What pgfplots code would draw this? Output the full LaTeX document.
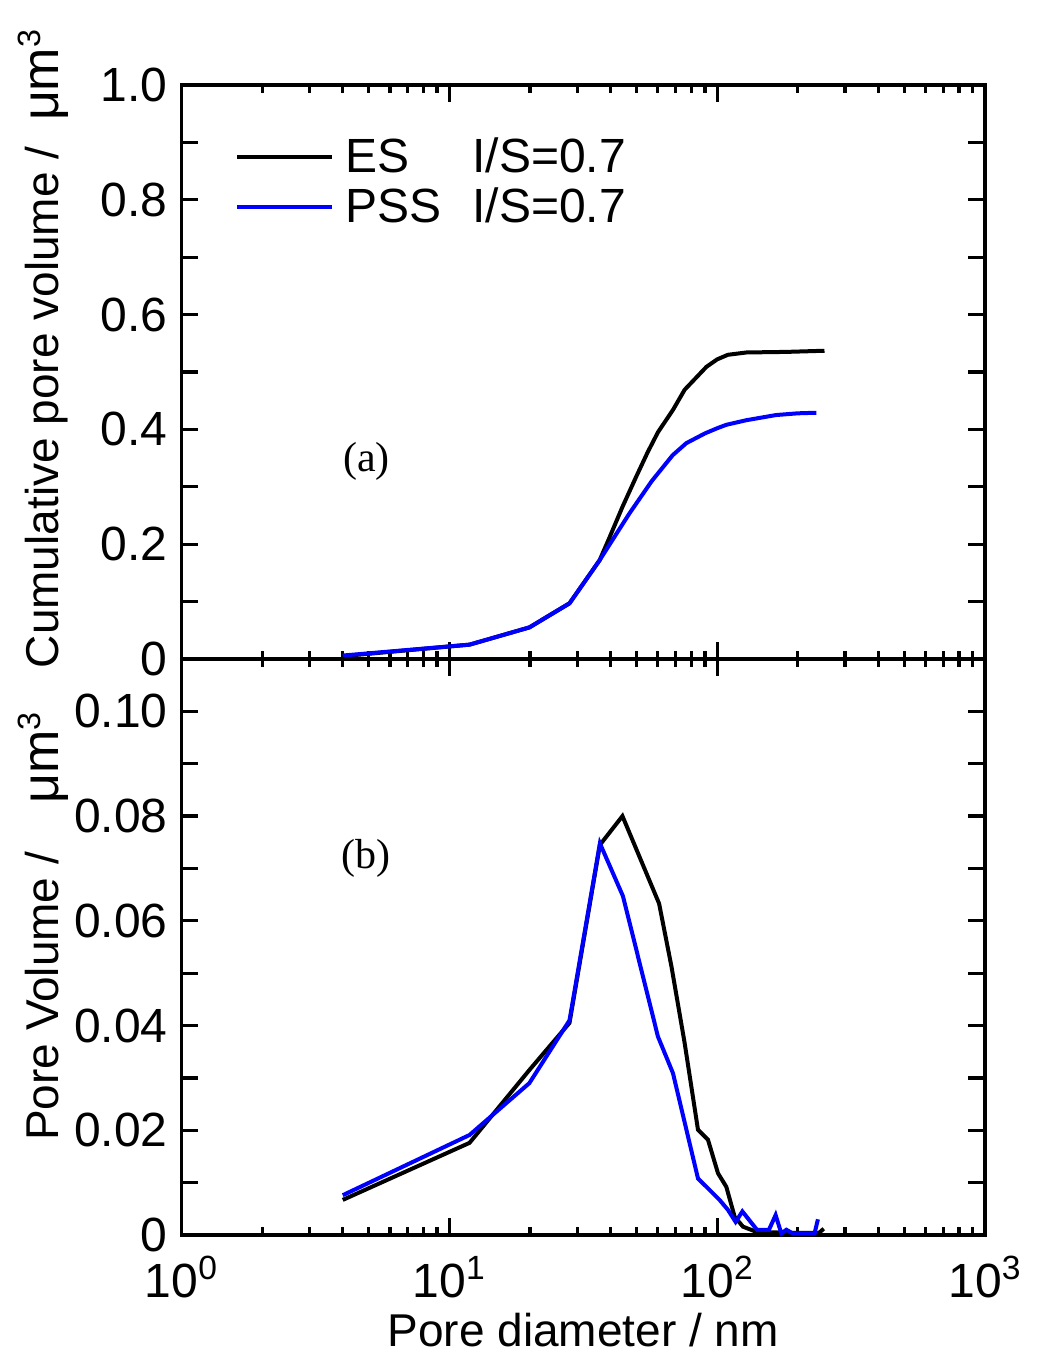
\documentclass[border=0pt]{standalone}
\usepackage{fontspec}
\setmainfont{Liberation Sans}
\newfontfamily\serifont{Liberation Serif}
\usepackage{graphicx}
\usepackage{pgfplots}
\pgfplotsset{compat=1.18}
\definecolor{pblue}{RGB}{0,0,255}
\newcommand{\mum}{{\fontsize{26}{26}\selectfont μm}}
\begin{document}
\begin{tikzpicture}
\path[use as bounding box] (0,0) rectangle (519pt,678.5pt);
% top panel
\begin{axis}[
  xmode=log, xmin=1, xmax=1000,
  width=401.75pt, scale only axis,
  axis line style={line width=1.8pt},
  tick style={line width=1.6pt, black},
  tick align=inside,
  major tick length=8.5pt, minor tick length=4.2pt,
  xtick={1,10,100,1000},
  ticklabel style={font=\fontsize{24}{24}\selectfont},
  yticklabel style={xshift=-3.5pt},
  label style={font=\fontsize{23}{23}\selectfont},
  xtick pos=both, ytick pos=both,
  clip=false,
  at={(90.75pt,349pt)}, anchor=south west, height=287pt,
  ymin=0, ymax=1.0,
  ytick={0,0.1,0.2,0.3,0.4,0.5,0.6,0.7,0.8,0.9,1.0},
  yticklabels={0,,0.2,,0.4,,0.6,,0.8,,1.0},
  xticklabels={},
  ylabel={Cumulative pore volume /\ \ \mum\textsuperscript{3}},
  ylabel style={at={(axis description cs:-0.132,0.541)}, anchor=south},
  legend style={at={(rel axis cs:0.0666,0.915)}, anchor=north west, draw=none, fill=none,
    font=\fontsize{24}{24}\selectfont, inner sep=0pt, row sep=2pt, column sep=3.5pt,
    cells={anchor=west}},
  legend image code/.code={\draw[#1] (0pt,0pt) -- (47.5pt,0pt);},
]
\addplot[black, line width=2pt] coordinates {
(4.0,0.005) (11.9,0.025) (19.9,0.055) (28.1,0.097) (36.4,0.172) (39.5,0.21)
(44.3,0.265) (49.9,0.318) (55,0.36) (60.1,0.395) (68.4,0.434) (75.6,0.469)
(91.2,0.509) (100,0.522) (109.7,0.530) (128.5,0.534) (181,0.535) (251.6,0.537)
};
\addlegendentry{\makebox[63.5pt][l]{ES}I/S=0.7}
\addplot[pblue, line width=2pt] coordinates {
(4.0,0.006) (11.9,0.025) (19.9,0.055) (28.1,0.097) (36.4,0.172) (41,0.21)
(47.1,0.254) (57,0.31) (68.2,0.355) (76.7,0.376) (90,0.393) (100,0.402)
(108.2,0.408) (128.5,0.416) (166,0.425) (200,0.428) (234.5,0.429)
};
\addlegendentry{\makebox[63.5pt][l]{PSS}I/S=0.7}
\node[font=\serifont\fontsize{21}{21}\selectfont] at (axis cs:4.9,0.345) {(a)};
\end{axis}
% bottom panel
\begin{axis}[
  xmode=log, xmin=1, xmax=1000,
  width=401.75pt, scale only axis,
  axis line style={line width=1.8pt},
  tick style={line width=1.6pt, black},
  tick align=inside,
  major tick length=8.5pt, minor tick length=4.2pt,
  xtick={1,10,100,1000},
  ticklabel style={font=\fontsize{24}{24}\selectfont},
  yticklabel style={xshift=-3.5pt},
  xticklabel style={yshift=-7pt},
  label style={font=\fontsize{23}{23}\selectfont},
  xtick pos=both, ytick pos=both,
  clip=false,
  at={(90.75pt,61pt)}, anchor=south west, height=288pt,
  ymin=0, ymax=0.11,
  ytick={0,0.01,0.02,0.03,0.04,0.05,0.06,0.07,0.08,0.09,0.10},
  yticklabels={0,,0.02,,0.04,,0.06,,0.08,,0.10},
  xticklabels={10\textsuperscript{0},10\textsuperscript{1},10\textsuperscript{2},10\textsuperscript{3}},
  xlabel={Pore diameter / nm},
  xlabel style={yshift=-0.5pt},
  ylabel={Pore Volume /\hspace{24pt}\mum\textsuperscript{3}},
  ylabel style={at={(axis description cs:-0.132,0.536)}, anchor=south},
]
\addplot[black, line width=2pt] coordinates {
(4.0,0.0067) (11.9,0.0176) (19.9,0.0315) (28.1,0.0405) (36.5,0.0745) (44.3,0.080)
(60.7,0.0633) (67.5,0.0513) (75.6,0.0367) (84.8,0.0201) (92.4,0.0182) (100.7,0.0118)
(108.2,0.0092) (116.2,0.0035) (124.8,0.0016) (140,0.0006) (160,0.0005) (200,0.0004)
(240,0.0004) (250,0.0012)
};
\addplot[pblue, line width=2pt] coordinates {
(4.0,0.0076) (11.9,0.0191) (19.9,0.029) (28.1,0.041) (36.5,0.0748) (44.5,0.0647)
(60.1,0.0379) (68.4,0.0309) (84.8,0.0108) (102.1,0.0067) (109.7,0.0048) (117.2,0.0025)
(124.2,0.0045) (140.8,0.001) (156.1,0.001) (165.3,0.0038) (173.6,0.0003) (181.3,0.001)
(191.7,0.0003) (231,0.0003) (237.8,0.003)
};
\node[font=\serifont\fontsize{21}{21}\selectfont] at (axis cs:4.9,0.072) {(b)};
\end{axis}
\end{tikzpicture}
\end{document}
